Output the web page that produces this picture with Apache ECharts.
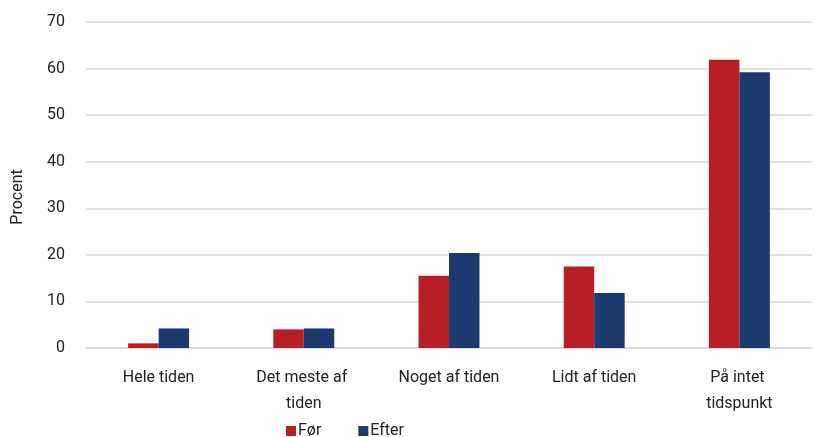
<!DOCTYPE html>
<html><head><meta charset="utf-8">
<script src="https://cdn.jsdelivr.net/npm/echarts@6/dist/echarts.min.js"></script>
<style>html,body{margin:0;padding:0;background:#fff}#c{width:815px;height:437px}</style>
</head><body><div id="c"></div>
<script>
const categories = ["Hele tiden", "Det meste af tiden", "Noget af tiden", "Lidt af tiden", "På intet tidspunkt"];
const forValues = [1.0, 4.0, 15.5, 17.5, 61.9];
const efterValues = [4.2, 4.2, 20.4, 11.8, 59.2];
const seriesNames = ["Før", "Efter"];
const yTicks = {min: 0, max: 70, interval: 10};
const font = "Roboto";
const chart = echarts.init(document.getElementById('c'));
chart.setOption({
  animation: false,
  textStyle: {fontFamily: font},
  grid: {left: 86, right: 3, top: 22, bottom: 89},
  legend: {
    data: seriesNames, left: 281, top: 418, itemWidth: 10, itemHeight: 10, itemGap: 37,
    icon: 'rect', textStyle: {fontSize: 16, color: '#222', fontFamily: font, padding: [0,0,0,-3]}
  },
  xAxis: {
    type: 'category', data: categories,
    axisLine: {lineStyle: {color: '#d9d9d9', width: 1.5}},
    axisTick: {show: false},
    axisLabel: {fontSize: 16, color: '#222', width: 112, overflow: 'break', lineHeight: 26, margin: 17, interval: 0}
  },
  yAxis: {
    type: 'value', min: yTicks.min, max: yTicks.max, interval: yTicks.interval,
    name: 'Procent', nameLocation: 'middle', nameGap: 60, nameRotate: 90,
    nameTextStyle: {fontSize: 16, color: '#222', padding: [0, 24, 0, 0]},
    axisLabel: {fontSize: 16, color: '#222', margin: 21},
    splitLine: {lineStyle: {color: '#d9d9d9', width: 1.5}},
    axisLine: {show: false}, axisTick: {show: false}
  },
  series: [
    {name: seriesNames[0], type: 'bar', data: forValues, barGap: '0%', barCategoryGap: '58%', itemStyle: {color: '#B81F24'}},
    {name: seriesNames[1], type: 'bar', data: efterValues, barGap: '0%', barCategoryGap: '58%', itemStyle: {color: '#1D3A6F'}}
  ]
});
</script></body></html>
